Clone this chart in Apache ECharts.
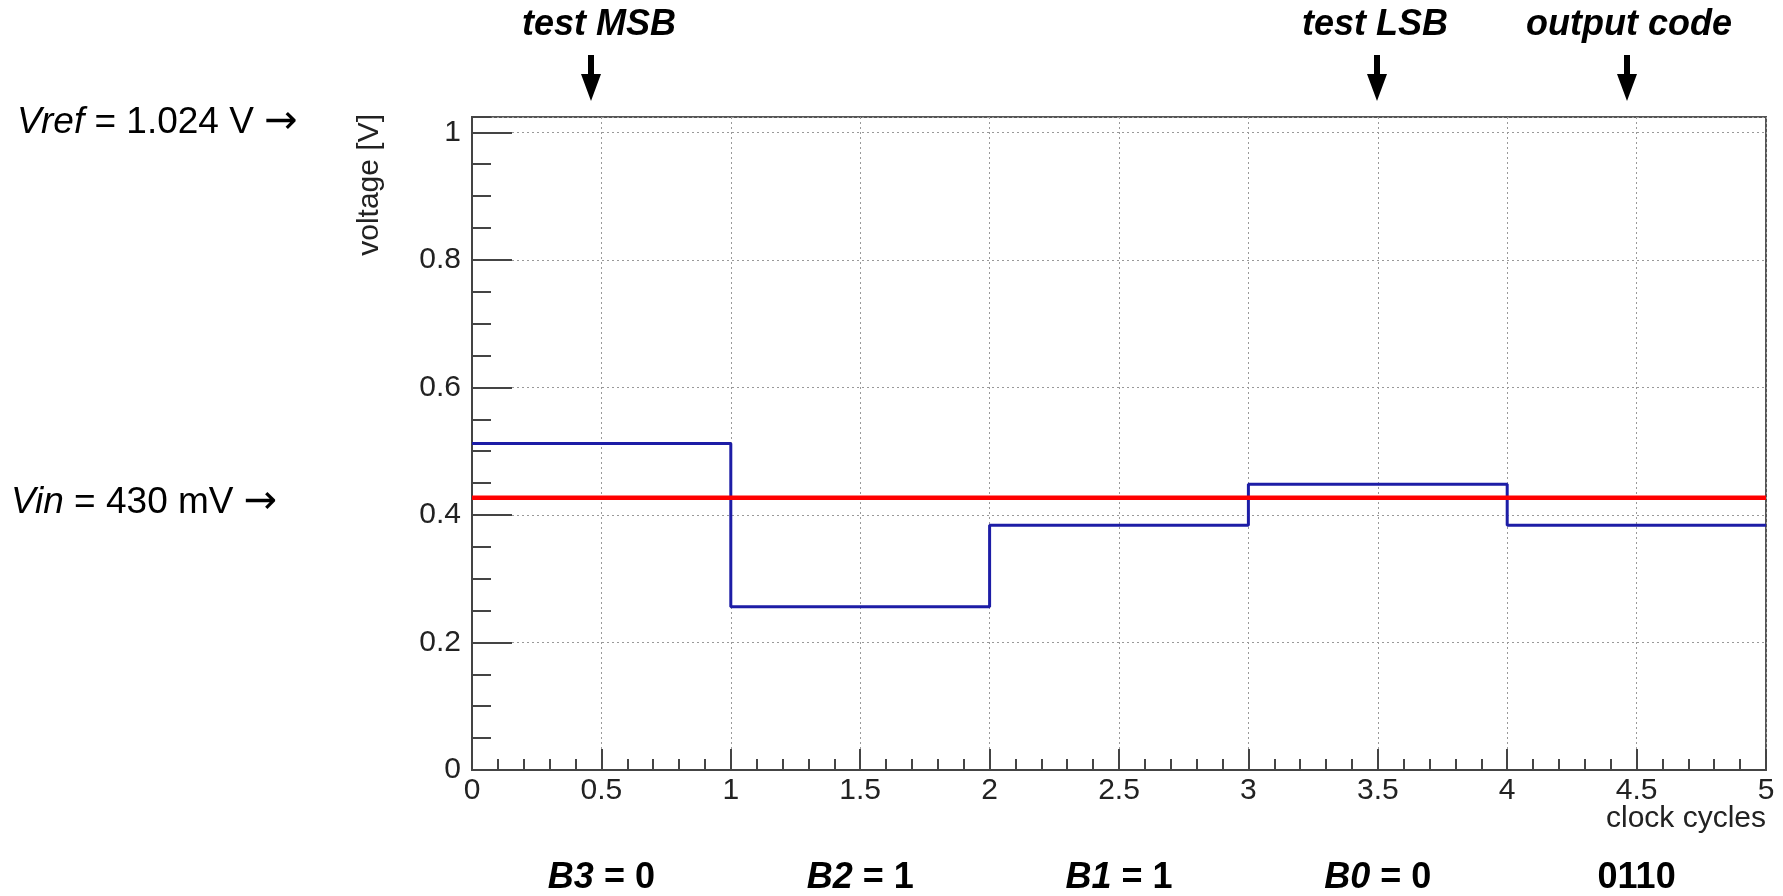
<!DOCTYPE html>
<html lang="en">
<head>
    <meta charset="UTF-8">
    <title>SAR ADC conversion</title>
    <script src="https://cdn.jsdelivr.net/npm/echarts@6/dist/echarts.min.js"></script>
</head>
<body style="margin:0;background:#fff;">
    <div id="main" style="width:1783px;height:896px;"></div>
    <script>
        // clock cycle boundaries and the DAC voltage held during each cycle
        var cycles = [0, 1, 2, 3, 4, 5];
        var dacLevels = [0.512, 0.256, 0.384, 0.448, 0.384];
        var vin = 0.427;
        var vref = 1.024;
        var bitNames = ['B3', 'B2', 'B1', 'B0'];
        var bitValues = [0, 1, 1, 0];
        var outputCode = '0110';

        var FONT = '"Liberation Sans", Arial, sans-serif';
        var AXIS_COLOR = '#444';

        var dacData = cycles.map(function (c, i) {
            return [c, dacLevels[Math.min(i, dacLevels.length - 1)]];
        });
        var vinData = [[cycles[0], vin], [cycles[cycles.length - 1], vin]];

        var chart = echarts.init(document.getElementById('main'));

        var labelStyle = { fontFamily: FONT, fontSize: 30, color: '#222' };

        chart.setOption({
            animation: false,
            grid: {
                left: 472, top: 117, right: 17, bottom: 126,
                show: true, borderColor: '#555', borderWidth: 2
            },
            xAxis: [{
                type: 'value', min: 0, max: 5, interval: 0.5,
                axisLine: { lineStyle: { color: AXIS_COLOR, width: 2 } },
                axisTick: { inside: true, length: 21, lineStyle: { color: AXIS_COLOR, width: 2 } },
                axisLabel: Object.assign({ margin: 6 }, labelStyle),
                splitLine: { show: true, lineStyle: { color: '#999', width: 1, type: [2, 3] } }
            }, {
                // minor ticks on the bottom edge
                type: 'value', min: 0, max: 5, interval: 0.1,
                position: 'bottom',
                axisLine: { show: false },
                axisTick: { inside: true, length: 11, lineStyle: { color: AXIS_COLOR, width: 2 } },
                axisLabel: { show: false },
                splitLine: { show: false }
            }],
            yAxis: [{
                type: 'value', min: 0, max: vref, interval: 0.2,
                position: 'left',
                axisLine: { show: true, lineStyle: { color: AXIS_COLOR, width: 2 } },
                axisTick: { show: true, inside: true, length: 40, lineStyle: { color: AXIS_COLOR, width: 2 } },
                axisLabel: Object.assign({ margin: 11, showMaxLabel: false }, labelStyle),
                splitLine: { show: true, lineStyle: { color: '#999', width: 1, type: [2, 3] } }
            }, {
                // minor ticks on the left edge
                type: 'value', min: 0, max: vref, interval: 0.05,
                position: 'left',
                axisLine: { show: false },
                axisTick: { show: true, inside: true, length: 19, lineStyle: { color: AXIS_COLOR, width: 2 } },
                axisLabel: { show: false },
                splitLine: { show: false }
            }],
            series: [{
                name: 'DAC',
                type: 'line',
                step: 'end',
                showSymbol: false,
                data: dacData,
                lineStyle: { color: '#1d1da6', width: 3 },
                z: 3
            }, {
                name: 'Vin',
                type: 'line',
                showSymbol: false,
                data: vinData,
                lineStyle: { color: '#ff0000', width: 4.5 },
                z: 4
            }]
        });

        function arrow(x) {
            return {
                type: 'polygon',
                shape: {
                    points: [
                        [x - 3, 55], [x + 3, 55], [x + 3, 74], [x + 10, 74],
                        [x, 101], [x - 10, 74], [x - 3, 74]
                    ]
                },
                style: { fill: '#000' }
            };
        }

        function richText(x, y, align, text, rich) {
            return {
                type: 'text', x: x, y: y,
                style: { text: text, rich: rich, align: align, verticalAlign: 'middle', fill: '#000' }
            };
        }

        var bi = { fontFamily: FONT, fontSize: 36, fontWeight: 'bold', fontStyle: 'italic', fill: '#000' };
        var b = { fontFamily: FONT, fontSize: 36, fontWeight: 'bold', fontStyle: 'normal', fill: '#000' };
        var it = { fontFamily: FONT, fontSize: 37, fontWeight: 'normal', fontStyle: 'italic', fill: '#000' };
        var rg = { fontFamily: FONT, fontSize: 37, fontWeight: 'normal', fontStyle: 'normal', fill: '#000' };
        var ar = { fontFamily: '"DejaVu Sans", sans-serif', fontSize: 40, fontWeight: 'normal', fontStyle: 'normal', fill: '#000' };

        var graphics = [
            richText(599, 25, 'center', '{bi|test MSB}', { bi: bi }),
            richText(1375, 25, 'center', '{bi|test LSB}', { bi: bi }),
            richText(1629, 25, 'center', '{bi|output code}', { bi: bi }),
            arrow(591), arrow(1377), arrow(1627),
            richText(17, 123, 'left', '{it|Vref}{rg| = 1.024 V }{ar|→}', { it: it, rg: rg, ar: ar }),
            richText(11, 503, 'left', '{it|Vin}{rg| = 430 mV }{ar|→}', { it: it, rg: rg, ar: ar }),
            {
                type: 'text', x: 370, y: 114, rotation: Math.PI / 2,
                style: {
                    text: 'voltage [V]', fontFamily: FONT, fontSize: 30, fill: '#222',
                    align: 'right', verticalAlign: 'middle'
                }
            },
            {
                type: 'text', x: 1766, y: 819,
                style: {
                    text: 'clock cycles', fontFamily: FONT, fontSize: 30, fill: '#222',
                    align: 'right', verticalAlign: 'middle'
                }
            }
        ];

        bitNames.forEach(function (name, i) {
            var px = chart.convertToPixel({ xAxisIndex: 0 }, cycles[i] + 0.5);
            graphics.push(richText(px, 878, 'center', '{bi|' + name + '}{b| = ' + bitValues[i] + '}', { bi: bi, b: b }));
        });
        var lastPx = chart.convertToPixel({ xAxisIndex: 0 }, cycles[bitNames.length] + 0.5);
        graphics.push(richText(lastPx, 878, 'center', '{b|' + outputCode + '}', { b: b }));

        chart.setOption({ graphic: graphics });
    </script>
</body>
</html>
